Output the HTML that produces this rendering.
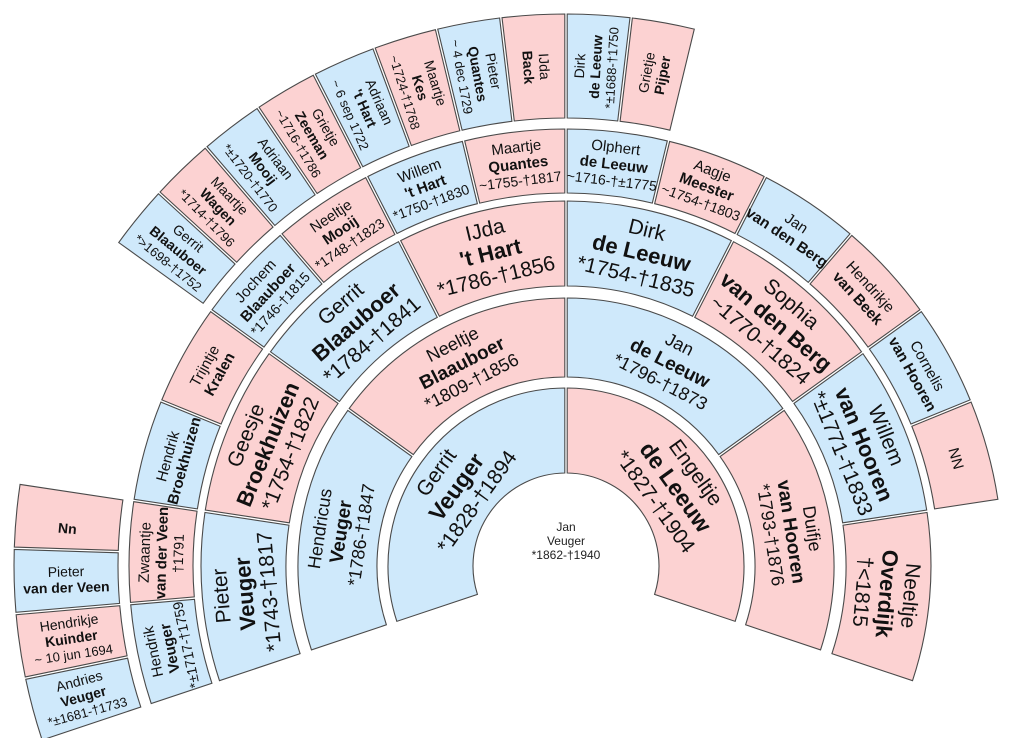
<!DOCTYPE html>
<html><head><meta charset="utf-8"><style>
html,body{margin:0;padding:0;background:#fff;width:1024px;height:738px;overflow:hidden}
svg{display:block;font-family:"Liberation Sans",Arial,sans-serif}
</style></head><body>
<svg id="s" width="1024" height="738" viewBox="0 0 1024 738" xmlns="http://www.w3.org/2000/svg">
<g id="g"></g>
<text x="566" y="531" font-size="12" text-anchor="middle" fill="#222">Jan</text>
<text x="566" y="545" font-size="12" text-anchor="middle" fill="#222">Veuger</text>
<text x="566" y="559" font-size="12" text-anchor="middle" fill="#222">*1862-†1940</text>
</svg>
<script>
var cx=566,cy=566,A0=198.5,TOT=217;
var rings=[[93,178],[189,268],[280,365],[373,437],[448,552]];
var B="#cfe9fb",P="#fcd2d2";
var data=[
[["Gerrit","Veuger","*1828-†1894"],["Engeltje","de Leeuw","*1827-†1904"]],
[["Hendricus","Veuger","*1786-†1847"],["Neeltje","Blaauboer","*1809-†1856"],["Jan","de Leeuw","*1796-†1873"],["Duifje","van Hooren","*1793-†1876"]],
[["Pieter","Veuger","*1743-†1817"],["Geesje","Broekhuizen","*1754-†1822"],["Gerrit","Blaauboer","*1784-†1841"],["IJda","'t Hart","*1786-†1856"],["Dirk","de Leeuw","*1754-†1835"],["Sophia","van den Berg","~1770-†1824"],["Willem","van Hooren","*±1771-†1833"],["Neeltje","Overdijk","†<1815"]],
[["Hendrik","Veuger","*±1717-†1759"],["Zwaantje","van der Veen","†1791"],["Hendrik","Broekhuizen"],["Trijntje","Kralen"],["Jochem","Blaauboer","*1746-†1815"],["Neeltje","Mooij","*1748-†1823"],["Willem","'t Hart","*1750-†1830"],["Maartje","Quantes","~1755-†1817"],["Olphert","de Leeuw","~1716-†±1775"],["Aagje","Meester","~1754-†1803"],["Jan","van den Berg"],["Hendrikje","van Beek"],["Cornelis","van Hooren"],["NN"],null,null],
[["Andries","Veuger","*±1681-†1733"],["Hendrikje","Kuinder","~ 10 jun 1694"],["Pieter","van der Veen"],["","Nn"],null,null,null,null,["Gerrit","Blaauboer","*>1698-†1752"],["Maartje","Wagen","*1714-†1796"],["Adriaan","Mooij","*±1720-†1770"],["Grietje","Zeeman","~1716-†1786"],["Adriaan","'t Hart","~ 6 sep 1722"],["Maartje","Kes","~1724-†1768"],["Pieter","Quantes","~ 4 dec 1729"],["IJda","Back"],["Dirk","de Leeuw","*±1688-†1750"],["Grietje","Pijper"],null,null,null,null,null,null,null,null,null,null,null,null,null,null]
];
var fs=[[21,23,21,25],[18,19,18,21],[21,22,21,24],[15,15,14,17],[14,14,13,16]];
var g=document.getElementById("g"),NS="http://www.w3.org/2000/svg";
function pt(r,a){a=a*Math.PI/180;return [cx+r*Math.cos(a),cy-r*Math.sin(a)];}
function el(n,at){var e=document.createElementNS(NS,n);for(var k in at)e.setAttribute(k,at[k]);return e;}
for(var gi=0;gi<5;gi++){
 var n=data[gi].length,step=TOT/n,ri=rings[gi][0],ro=rings[gi][1];
 for(var i=0;i<n;i++){
  var d=data[gi][i];if(!d)continue;
  var a=A0-i*step,b=A0-(i+1)*step;
  var go=1.2/ro*180/Math.PI,gin=1.2/ri*180/Math.PI;
  var p1=pt(ro,a-go),p2=pt(ro,b+go),p3=pt(ri,b+gin),p4=pt(ri,a-gin);
  var col=(i%2==0)?B:P;
  g.appendChild(el("path",{d:"M"+p1+" A"+ro+" "+ro+" 0 0 1 "+p2+" L"+p3+" A"+ri+" "+ri+" 0 0 0 "+p4+" Z",fill:col,stroke:"#4a4a4a","stroke-width":"1.1"}));
  var m=(a+b)/2,rm=(ri+ro)/2,c=pt(rm,m),rot;
  if(gi<4)rot=90-m;else rot=(m>90)?180-m:-m;
  var f=fs[gi],lines=d;
  var grp=el("g",{transform:"translate("+c[0].toFixed(1)+","+c[1].toFixed(1)+") rotate("+rot.toFixed(2)+")"});
  var L=lines.length,lh=f[3];
  for(var k=0;k<L;k++){
   if(lines[k]==="")continue;
   var y=(k-(L-1)/2)*lh+f[k%3]*0.36;
   var bold=(k==1);
   var t=el("text",{x:0,y:y.toFixed(1),"font-size":f[k],"text-anchor":"middle",fill:"#111","font-weight":bold?"bold":"normal"});
   t.textContent=lines[k];grp.appendChild(t);
  }
  g.appendChild(grp);
 }
}
</script>
</body></html>
